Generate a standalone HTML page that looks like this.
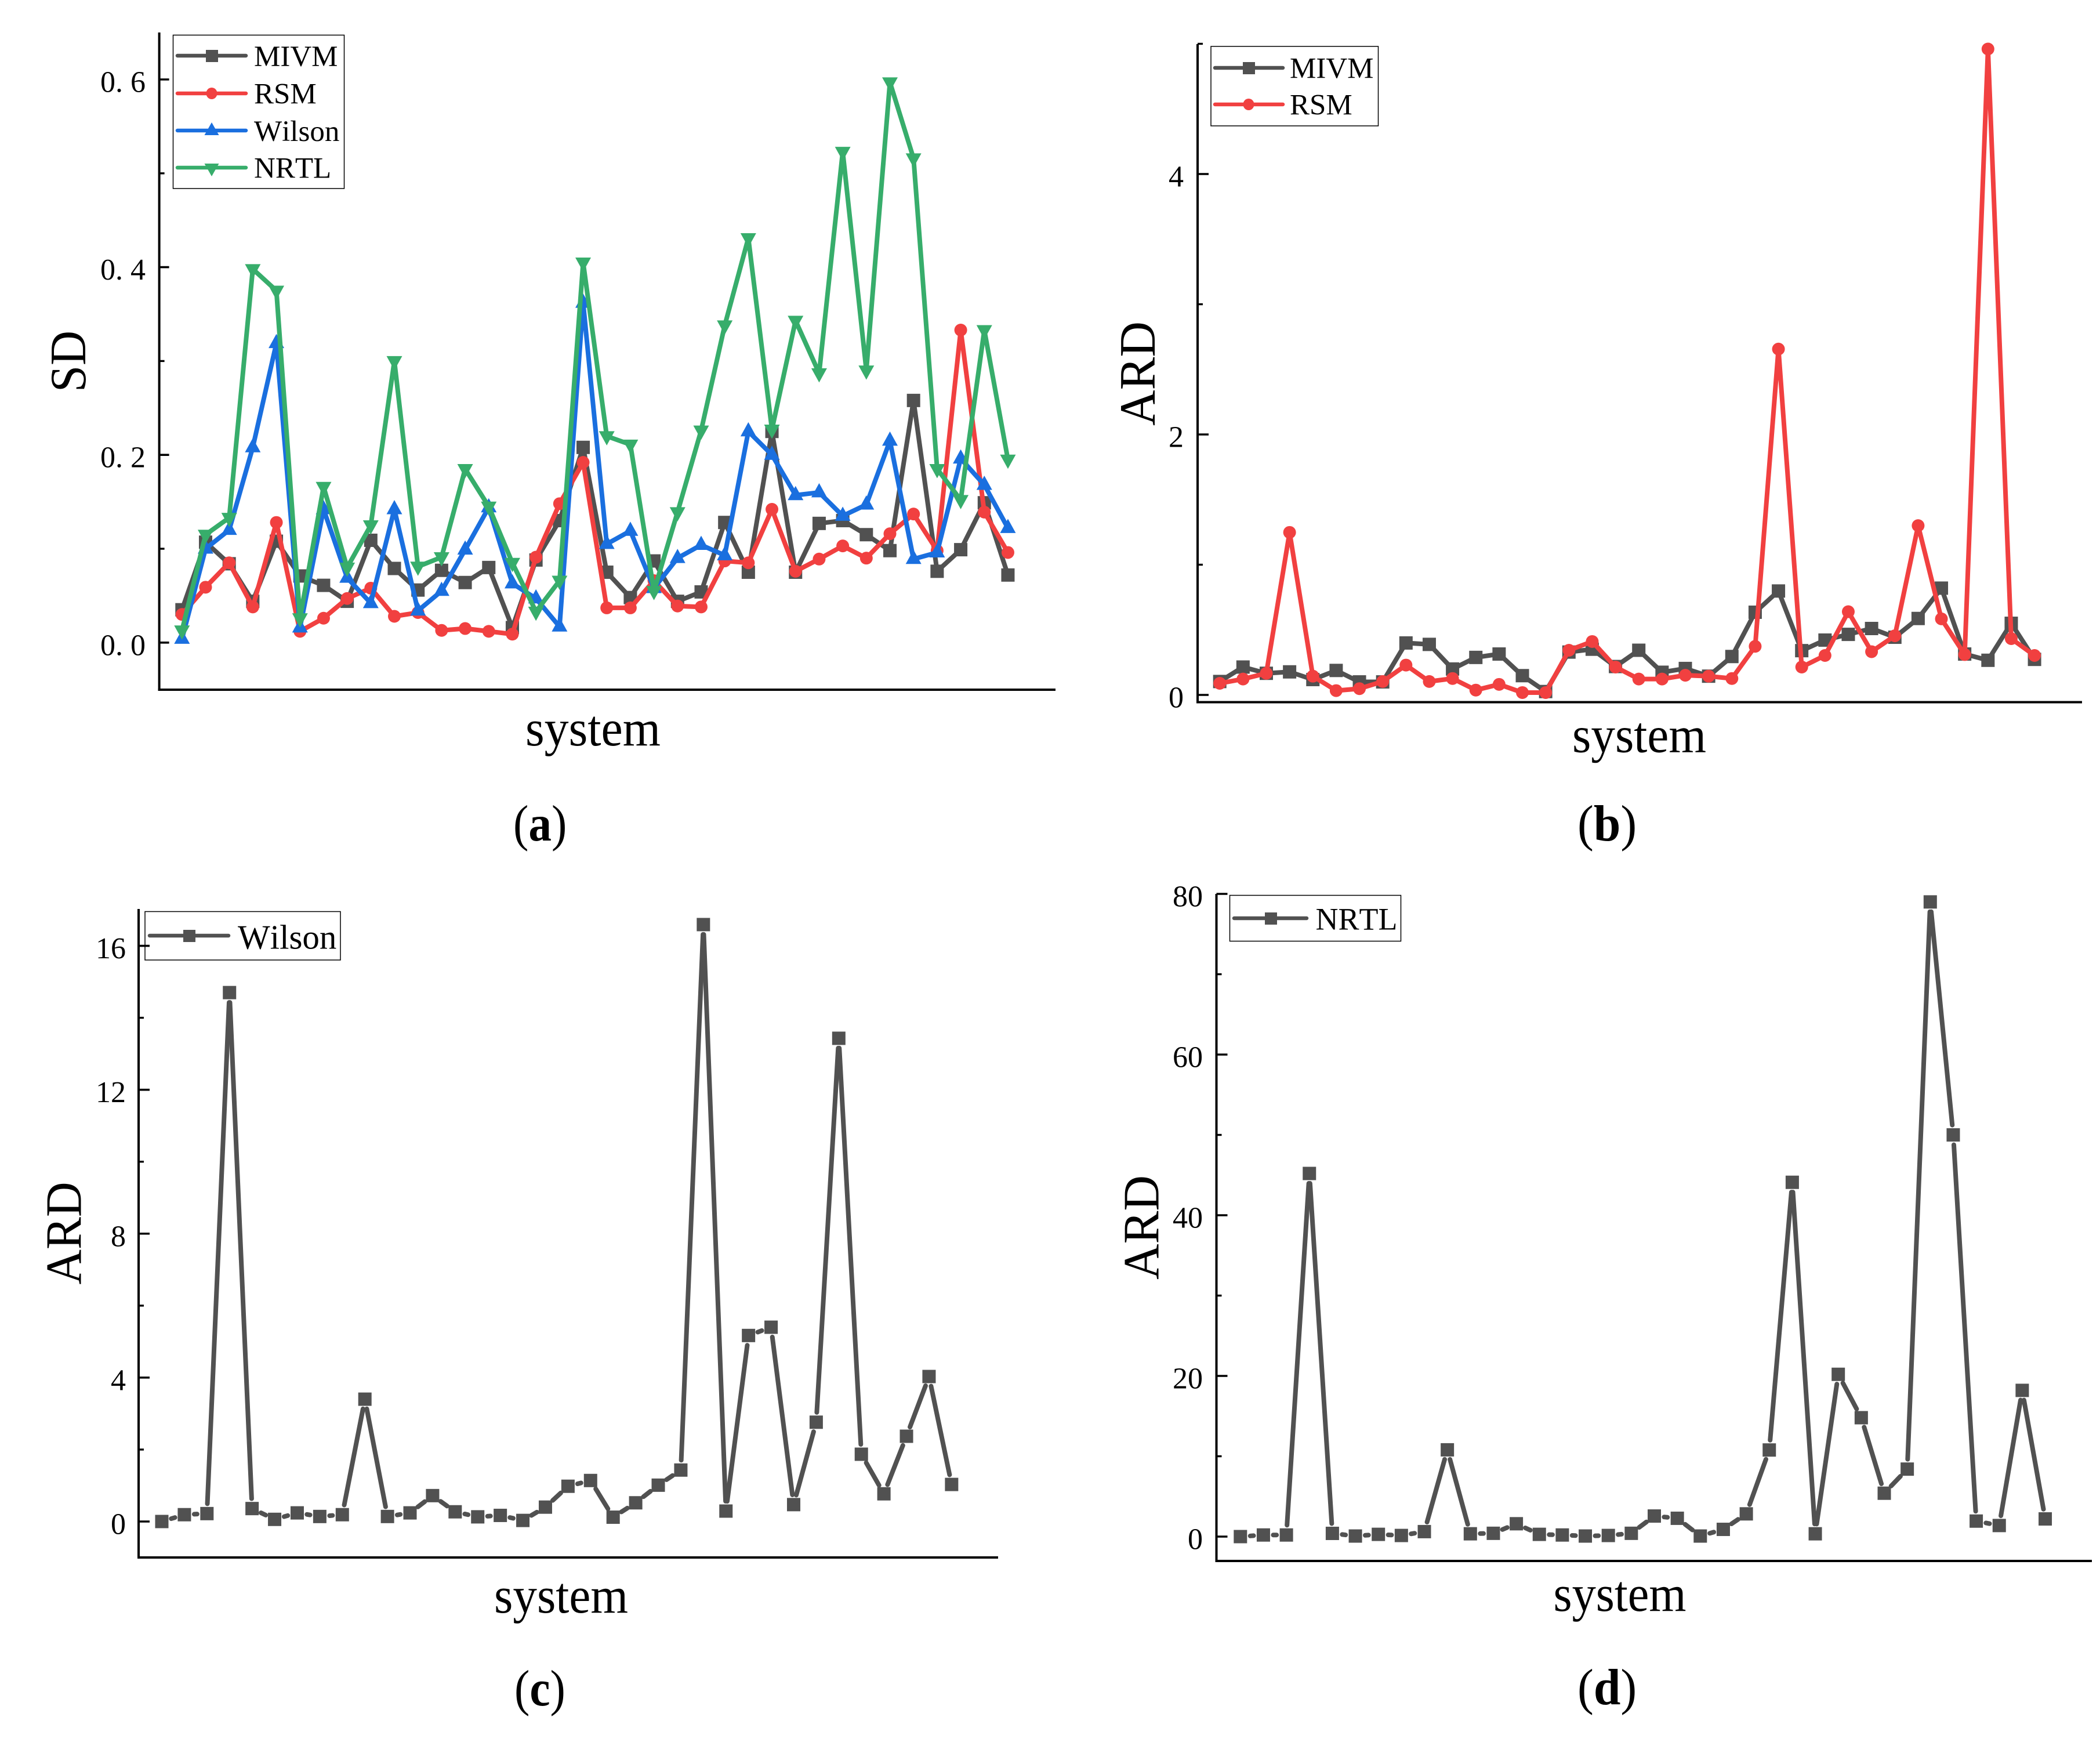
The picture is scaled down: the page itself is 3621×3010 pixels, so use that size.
<!DOCTYPE html>
<html lang="en">
<head>
<meta charset="utf-8">
<title>SD and ARD comparison of MIVM, RSM, Wilson and NRTL</title>
<style>
html,body{margin:0;padding:0;background:#fff;}
svg{display:block;}
text{font-family:"Liberation Serif","Times New Roman",serif;fill:#000;font-kerning:none;}
</style>
</head>
<body>
<svg id="figure" xmlns="http://www.w3.org/2000/svg" width="3621" height="3010" viewBox="0 0 3621 3010">
  <rect x="0" y="0" width="3621" height="3010" fill="#fff"/>

  <g id="panel-a"></g>
  <g id="panel-b"></g>
  <g id="panel-c"></g>
  <g id="panel-d"></g>

  <!-- Axis titles -->
  <text transform="translate(147,623) rotate(-90)" text-anchor="middle" font-size="88" textLength="106" lengthAdjust="spacingAndGlyphs">SD</text>
  <text transform="translate(1991,644) rotate(-90)" text-anchor="middle" font-size="88" textLength="180" lengthAdjust="spacingAndGlyphs">ARD</text>
  <text transform="translate(139.5,2126) rotate(-90)" text-anchor="middle" font-size="88" textLength="177" lengthAdjust="spacingAndGlyphs">ARD</text>
  <text transform="translate(1997.5,2116) rotate(-90)" text-anchor="middle" font-size="88" textLength="180" lengthAdjust="spacingAndGlyphs">ARD</text>

  <text x="906" y="1285" font-size="88" textLength="233" lengthAdjust="spacingAndGlyphs">system</text>
  <text x="2711" y="1296.5" font-size="88" textLength="231" lengthAdjust="spacingAndGlyphs">system</text>
  <text x="852" y="2780" font-size="88" textLength="231" lengthAdjust="spacingAndGlyphs">system</text>
  <text x="2678.5" y="2777" font-size="88" textLength="229" lengthAdjust="spacingAndGlyphs">system</text>

  <!-- Panel captions -->
  <text transform="translate(885,1449) scale(.9,1)" font-size="88">(<tspan font-weight="bold">a</tspan>)</text>
  <text transform="translate(2720,1449) scale(.95,1)" font-size="88">(<tspan font-weight="bold">b</tspan>)</text>
  <text transform="translate(887,2940) scale(.9,1)" font-size="88">(<tspan font-weight="bold">c</tspan>)</text>
  <text transform="translate(2720,2938) scale(.95,1)" font-size="88">(<tspan font-weight="bold">d</tspan>)</text>

  <!-- Legend: panel a -->
  <g>
    <rect x="298.5" y="60.5" width="295" height="264.5" fill="none" stroke="#000" stroke-width="1.5"/>
    <g>
      <line x1="306" y1="96" x2="424" y2="96" stroke="#515151" stroke-width="6.5" stroke-linecap="round"/>
      <rect x="355" y="86" width="21" height="21" fill="#515151"/>
      <text x="438" y="114" font-size="51">MIVM</text>
    </g>
    <g>
      <line x1="306" y1="161" x2="424" y2="161" stroke="#F14040" stroke-width="6.5" stroke-linecap="round"/>
      <ellipse cx="365" cy="161" rx="9.5" ry="10" fill="#F14040"/>
      <text x="438" y="178.5" font-size="51">RSM</text>
    </g>
    <g>
      <line x1="306" y1="225" x2="424" y2="225" stroke="#1A6FDF" stroke-width="6.5" stroke-linecap="round"/>
      <polygon points="365,211 377.5,233 352.5,233" fill="#1A6FDF"/>
      <text x="438" y="243" font-size="51">Wilson</text>
    </g>
    <g>
      <line x1="306" y1="289" x2="424" y2="289" stroke="#37AD6B" stroke-width="6.5" stroke-linecap="round"/>
      <polygon points="352.5,282 377.5,282 365,304" fill="#37AD6B"/>
      <text x="438" y="306.5" font-size="51">NRTL</text>
    </g>
  </g>

  <!-- Legend: panel b -->
  <g>
    <rect x="2088" y="80" width="288.5" height="137" fill="none" stroke="#000" stroke-width="1.5"/>
    <g>
      <line x1="2095" y1="117" x2="2212" y2="117" stroke="#515151" stroke-width="6.5" stroke-linecap="round"/>
      <rect x="2143" y="107" width="21" height="21" fill="#515151"/>
      <text x="2224" y="134.5" font-size="51">MIVM</text>
    </g>
    <g>
      <line x1="2095" y1="180" x2="2212" y2="180" stroke="#F14040" stroke-width="6.5" stroke-linecap="round"/>
      <ellipse cx="2153" cy="180" rx="9.5" ry="10" fill="#F14040"/>
      <text x="2224" y="197.5" font-size="51">RSM</text>
    </g>
  </g>

  <!-- Legend: panel c -->
  <g>
    <rect x="250" y="1571.5" width="337" height="83.5" fill="none" stroke="#000" stroke-width="1.5"/>
    <g>
      <line x1="258" y1="1613" x2="394" y2="1613" stroke="#515151" stroke-width="6.5" stroke-linecap="round"/>
      <rect x="316" y="1603" width="21" height="21" fill="#515151"/>
      <text x="410" y="1635.5" font-size="59">Wilson</text>
    </g>
  </g>

  <!-- Legend: panel d -->
  <g>
    <rect x="2120.5" y="1543.5" width="295" height="79" fill="none" stroke="#000" stroke-width="1.5"/>
    <g>
      <line x1="2128" y1="1583" x2="2253" y2="1583" stroke="#515151" stroke-width="6.5" stroke-linecap="round"/>
      <rect x="2181" y="1573" width="21" height="21" fill="#515151"/>
      <text x="2268.5" y="1602.5" font-size="54">NRTL</text>
    </g>
  </g>
</svg>

<script>
// ---- Chart data ----
const systems = [1,2,3,4,5,6,7,8,9,10,11,12,13,14,15,16,17,18,19,20,21,22,23,24,25,26,27,28,29,30,31,32,33,34,35,36];

// Panel a: SD
const sdMIVM = [0.035,0.107,0.084,0.044,0.108,0.071,0.061,0.044,0.109,0.079,0.056,0.077,0.064,0.080,0.016,0.088,0.130,0.208,0.075,0.048,0.087,0.044,0.054,0.128,0.075,0.225,0.075,0.127,0.130,0.115,0.098,0.258,0.076,0.099,0.149,0.072];
const sdRSM = [0.030,0.059,0.085,0.038,0.128,0.012,0.026,0.047,0.058,0.028,0.032,0.013,0.015,0.012,0.009,0.091,0.148,0.192,0.037,0.037,0.066,0.039,0.038,0.087,0.085,0.142,0.076,0.089,0.103,0.090,0.116,0.137,0.098,0.333,0.139,0.096];
const sdWilson = [0.004,0.100,0.120,0.208,0.319,0.016,0.142,0.069,0.042,0.142,0.034,0.055,0.099,0.144,0.063,0.047,0.017,0.362,0.105,0.119,0.058,0.090,0.104,0.093,0.225,0.200,0.157,0.160,0.135,0.147,0.215,0.089,0.096,0.196,0.168,0.122];
const sdNRTL = [0.013,0.115,0.133,0.398,0.375,0.026,0.166,0.080,0.125,0.300,0.081,0.091,0.185,0.145,0.085,0.033,0.066,0.405,0.220,0.211,0.055,0.139,0.226,0.338,0.431,0.227,0.343,0.287,0.523,0.290,0.597,0.516,0.185,0.152,0.333,0.195];
const sdTicks = [0,0.2,0.4,0.6];
const sdTickLabels = ['0. 0','0. 2','0. 4','0. 6'];
const sdMinorTicks = [0.1,0.3,0.5];

// Panel b: ARD, MIVM vs RSM
const ardMIVM = [0.103,0.214,0.166,0.177,0.118,0.188,0.100,0.100,0.399,0.388,0.199,0.288,0.314,0.148,0.026,0.329,0.351,0.218,0.343,0.174,0.203,0.144,0.295,0.635,0.798,0.340,0.421,0.465,0.510,0.443,0.587,0.820,0.314,0.266,0.550,0.273];
const ardRSM = [0.089,0.122,0.166,1.248,0.144,0.033,0.048,0.103,0.229,0.103,0.126,0.037,0.081,0.018,0.018,0.343,0.410,0.214,0.122,0.122,0.151,0.144,0.126,0.373,2.656,0.214,0.303,0.639,0.332,0.454,1.300,0.584,0.310,4.960,0.432,0.303];
const ardBTicks = [0,2,4];
const ardBTickLabels = ['0','2','4'];
const ardBMinorTicks = [1,3,5];

// Panel c: ARD, Wilson
const ardWilson = [0,0.19,0.22,14.7,0.36,0.06,0.24,0.14,0.19,3.4,0.14,0.24,0.72,0.27,0.13,0.17,0.03,0.40,0.98,1.14,0.12,0.52,1.01,1.43,16.59,0.29,5.17,5.40,0.47,2.76,13.43,1.87,0.77,2.37,4.03,1.03];
const ardCTicks = [0,4,8,12,16];
const ardCTickLabels = ['0','4','8','12','16'];
const ardCMinorTicks = [2,6,10,14];

// Panel d: ARD, NRTL
const ardNRTL = [0,0.2,0.2,45.2,0.4,0.07,0.28,0.14,0.62,10.8,0.35,0.41,1.6,0.28,0.2,0.07,0.14,0.41,2.56,2.28,0.07,0.9,2.83,10.78,44.1,0.35,20.2,14.8,5.4,8.4,79.0,50.0,1.93,1.38,18.2,2.2];
const ardDTicks = [0,20,40,60,80];
const ardDTickLabels = ['0','20','40','60','80'];
const ardDMinorTicks = [10,30,50,70];

// ---- Drawing ----
const NS = 'http://www.w3.org/2000/svg';
const COLORS = {dark:'#515151', red:'#F14040', blue:'#1A6FDF', green:'#37AD6B'};

function svgEl(tag, attrs, parent) {
  const el = document.createElementNS(NS, tag);
  Object.keys(attrs).forEach(function (k) { el.setAttribute(k, attrs[k]); });
  parent.appendChild(el);
  return el;
}

function makeXScale(frame) {
  return function (position) { return frame.x0 + frame.dx * position; };
}
function makeYScale(frame) {
  return function (value) { return frame.y0 - frame.pxPerUnit * value; };
}

function drawAxes(g, frame, yScale, ticks, labels, minors) {
  const spineY = svgEl('line', {x1:frame.left, y1:frame.top, x2:frame.left, y2:frame.bottom + 2, stroke:'#000', 'stroke-width':4}, g);
  
  
  const spineX = svgEl('line', {x1:frame.left - 2, y1:frame.bottom, x2:frame.right, y2:frame.bottom, stroke:'#000', 'stroke-width':4}, g);
  
  
  ticks.forEach(function (value, i) {
    const y = yScale(value);
    const tick = svgEl('line', {x1:frame.left, y1:y, x2:frame.left + frame.majorLen, y2:y, stroke:'#000', 'stroke-width':3.6}, g);
    
    
    const label = svgEl('text', {x:frame.labelRight, y:y + 21.5, 'text-anchor':'end', 'font-size':52}, g);
    
    
    label.textContent = labels[i];
  });
  minors.forEach(function (value) {
    const y = yScale(value);
    const tick = svgEl('line', {x1:frame.left, y1:y, x2:frame.left + frame.minorLen, y2:y, stroke:'#000', 'stroke-width':3.4}, g);
    
    
  });
}

function drawMarker(g, shape, cx, cy, color) {
  let el;
  if (shape === 'square') {
    el = svgEl('rect', {x:cx - 11.5, y:cy - 11.5, width:23, height:23, fill:color}, g);
  } else if (shape === 'circle') {
    el = svgEl('ellipse', {cx:cx, cy:cy, rx:11, ry:11, fill:color}, g);
  } else if (shape === 'up') {
    el = svgEl('polygon', {points:[cx, cy - 16, cx + 13.5, cy + 8.5, cx - 13.5, cy + 8.5].join(' '), fill:color}, g);
  } else {
    el = svgEl('polygon', {points:[cx - 13.5, cy - 8.5, cx + 13.5, cy - 8.5, cx, cy + 16].join(' '), fill:color}, g);
  }
  
  
}

function drawSeries(g, name, values, shape, color, xScale, yScale, gap) {
  const group = svgEl('g', {}, g);
  
  
  const pts = values.map(function (v, i) { return [xScale(i), yScale(v)]; });
  if (!gap) {
    const line = svgEl('polyline', {points:pts.map(function (p) { return p.join(','); }).join(' '), fill:'none', stroke:color, 'stroke-width':8, 'stroke-linejoin':'round'}, group);
    
    
  } else {
    for (let i = 0; i < pts.length - 1; i++) {
      const a = pts[i], b = pts[i + 1];
      const dx = b[0] - a[0], dy = b[1] - a[1];
      const len = Math.hypot(dx, dy);
      if (len <= 2 * gap) continue;
      const ux = dx / len, uy = dy / len;
      const seg = svgEl('line', {x1:a[0] + ux * gap, y1:a[1] + uy * gap, x2:b[0] - ux * gap, y2:b[1] - uy * gap, stroke:color, 'stroke-width':8, 'stroke-linecap':'round'}, group);
      
      
    }
  }
  pts.forEach(function (p) { drawMarker(group, shape, p[0], p[1], color); });
}

function drawPanel(id, frame, ticks, labels, minors, seriesList, gap) {
  const g = document.getElementById(id);
  const xScale = makeXScale(frame);
  const yScale = makeYScale(frame);
  drawAxes(g, frame, yScale, ticks, labels, minors);
  seriesList.forEach(function (s) {
    drawSeries(g, s.name, s.values, s.shape, s.color, xScale, yScale, gap);
  });
}

drawPanel('panel-a',
  {left:274.6, right:1820, top:56, bottom:1189, x0:313.8, dx:40.69, y0:1107.8, pxPerUnit:1618, majorLen:17, minorLen:9, labelRight:251},
  sdTicks, sdTickLabels, sdMinorTicks,
  [{name:'mivm', values:sdMIVM, shape:'square', color:COLORS.dark},
   {name:'rsm', values:sdRSM, shape:'circle', color:COLORS.red},
   {name:'wilson', values:sdWilson, shape:'up', color:COLORS.blue},
   {name:'nrtl', values:sdNRTL, shape:'down', color:COLORS.green}], 0);

drawPanel('panel-b',
  {left:2065, right:3590, top:76, bottom:1210.5, x0:2103.2, dx:40.14, y0:1198, pxPerUnit:224.5, majorLen:19, minorLen:9, labelRight:2041},
  ardBTicks, ardBTickLabels, ardBMinorTicks,
  [{name:'mivm', values:ardMIVM, shape:'square', color:COLORS.dark},
   {name:'rsm', values:ardRSM, shape:'circle', color:COLORS.red}], 0);

drawPanel('panel-c',
  {left:239, right:1721, top:1567, bottom:2685, x0:279, dx:38.91, y0:2623, pxPerUnit:62.03, majorLen:19, minorLen:9, labelRight:217},
  ardCTicks, ardCTickLabels, ardCMinorTicks,
  [{name:'wilson', values:ardWilson, shape:'square', color:COLORS.dark}], 17);

drawPanel('panel-d',
  {left:2097.5, right:3607, top:1541, bottom:2691, x0:2138.8, dx:39.65, y0:2649, pxPerUnit:13.85, majorLen:19, minorLen:9, labelRight:2074},
  ardDTicks, ardDTickLabels, ardDMinorTicks,
  [{name:'nrtl', values:ardNRTL, shape:'square', color:COLORS.dark}], 17);
</script>
</body>
</html>
